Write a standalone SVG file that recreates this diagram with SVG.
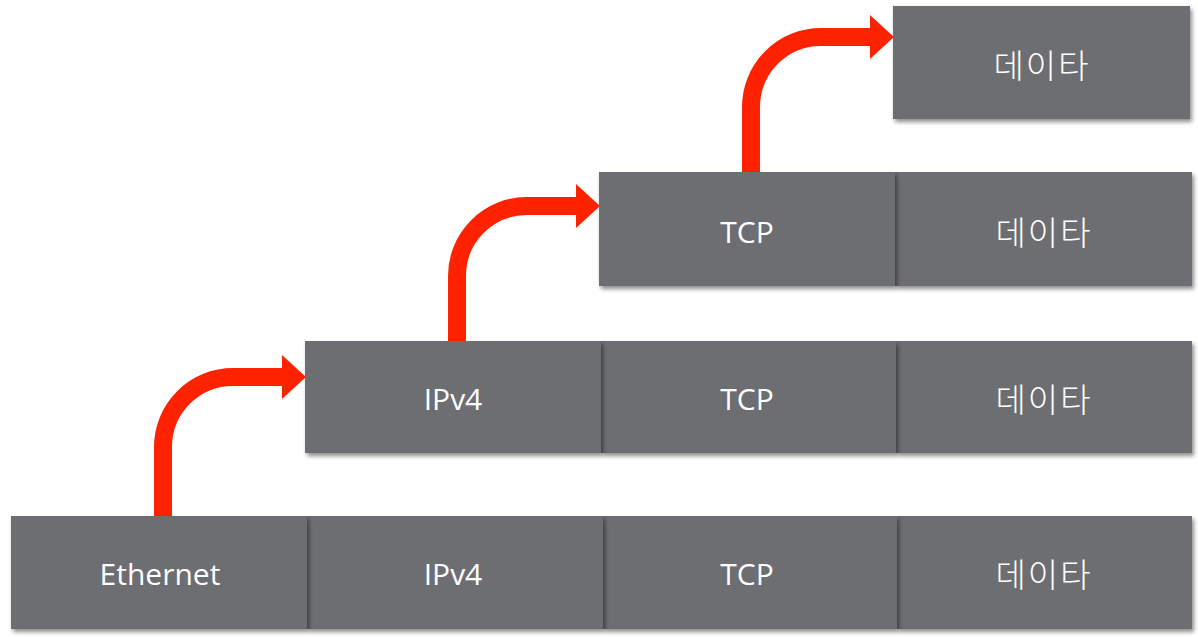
<svg xmlns="http://www.w3.org/2000/svg" width="1198" height="637" viewBox="0 0 1198 637">
<defs>
<filter id="sh" x="-5%" y="-10%" width="115%" height="130%">
<feDropShadow dx="2" dy="3" stdDeviation="2" flood-color="#000" flood-opacity="0.45"/>
</filter>
<marker id="ah" viewBox="0 0 24 44" refX="0" refY="22" markerWidth="24" markerHeight="44" markerUnits="userSpaceOnUse" orient="auto">
<path d="M0,0 L24,22 L0,44 Z" fill="#ff2200"/>
</marker>
</defs>
<style>
.cell{fill:#6d6e72;filter:url(#sh)}
.t{font-family:"Open Sans","Noto Sans CJK KR",sans-serif;font-size:30px;fill:#fff;text-anchor:middle;dominant-baseline:central}
.k{font-family:"Noto Sans CJK KR",sans-serif;font-size:33px;font-weight:300;letter-spacing:2px}
.arr{fill:none;stroke:#ff2200;stroke-width:18;marker-end:url(#ah)}
</style>
<rect width="1198" height="637" fill="#fff"/>
<g id="connectors">
<path class="arr" d="M163,516 L163,447 A70,70 0 0 1 233,377 L282,377"/>
<path class="arr" d="M457,341 L457,276 A70,70 0 0 1 527,206 L576,206"/>
<path class="arr" d="M751,172 L751,107 A70,70 0 0 1 821,37 L870,37"/>
</g>
<g id="row1">
<g id="r1-data"><rect class="cell" x="893" y="6" width="297" height="113"/><text class="t k" x="1042" y="64">데이타</text></g>
</g>
<g id="row2">
<g id="r2-data"><rect class="cell" x="895" y="172" width="297" height="114"/><text class="t k" x="1044" y="231">데이타</text></g>
<g id="r2-tcp"><rect class="cell" x="599" y="172" width="296" height="114"/><text class="t" x="747" y="231">TCP</text></g>
</g>
<g id="row3">
<g id="r3-data"><rect class="cell" x="896" y="341" width="296" height="112"/><text class="t k" x="1044" y="398">데이타</text></g>
<g id="r3-tcp"><rect class="cell" x="601" y="341" width="295" height="112"/><text class="t" x="747" y="398">TCP</text></g>
<g id="r3-ip"><rect class="cell" x="305" y="341" width="296" height="112"/><text class="t" x="453" y="398">IPv4</text></g>
</g>
<g id="row4">
<g id="r4-data"><rect class="cell" x="897" y="516" width="295" height="113"/><text class="t k" x="1044" y="573">데이타</text></g>
<g id="r4-tcp"><rect class="cell" x="603" y="516" width="294" height="113"/><text class="t" x="747" y="573">TCP</text></g>
<g id="r4-ip"><rect class="cell" x="307" y="516" width="296" height="113"/><text class="t" x="453" y="573">IPv4</text></g>
<g id="r4-eth"><rect class="cell" x="11" y="516" width="296" height="113"/><text class="t" x="160" y="573">Ethernet</text></g>
</g>
</svg>
